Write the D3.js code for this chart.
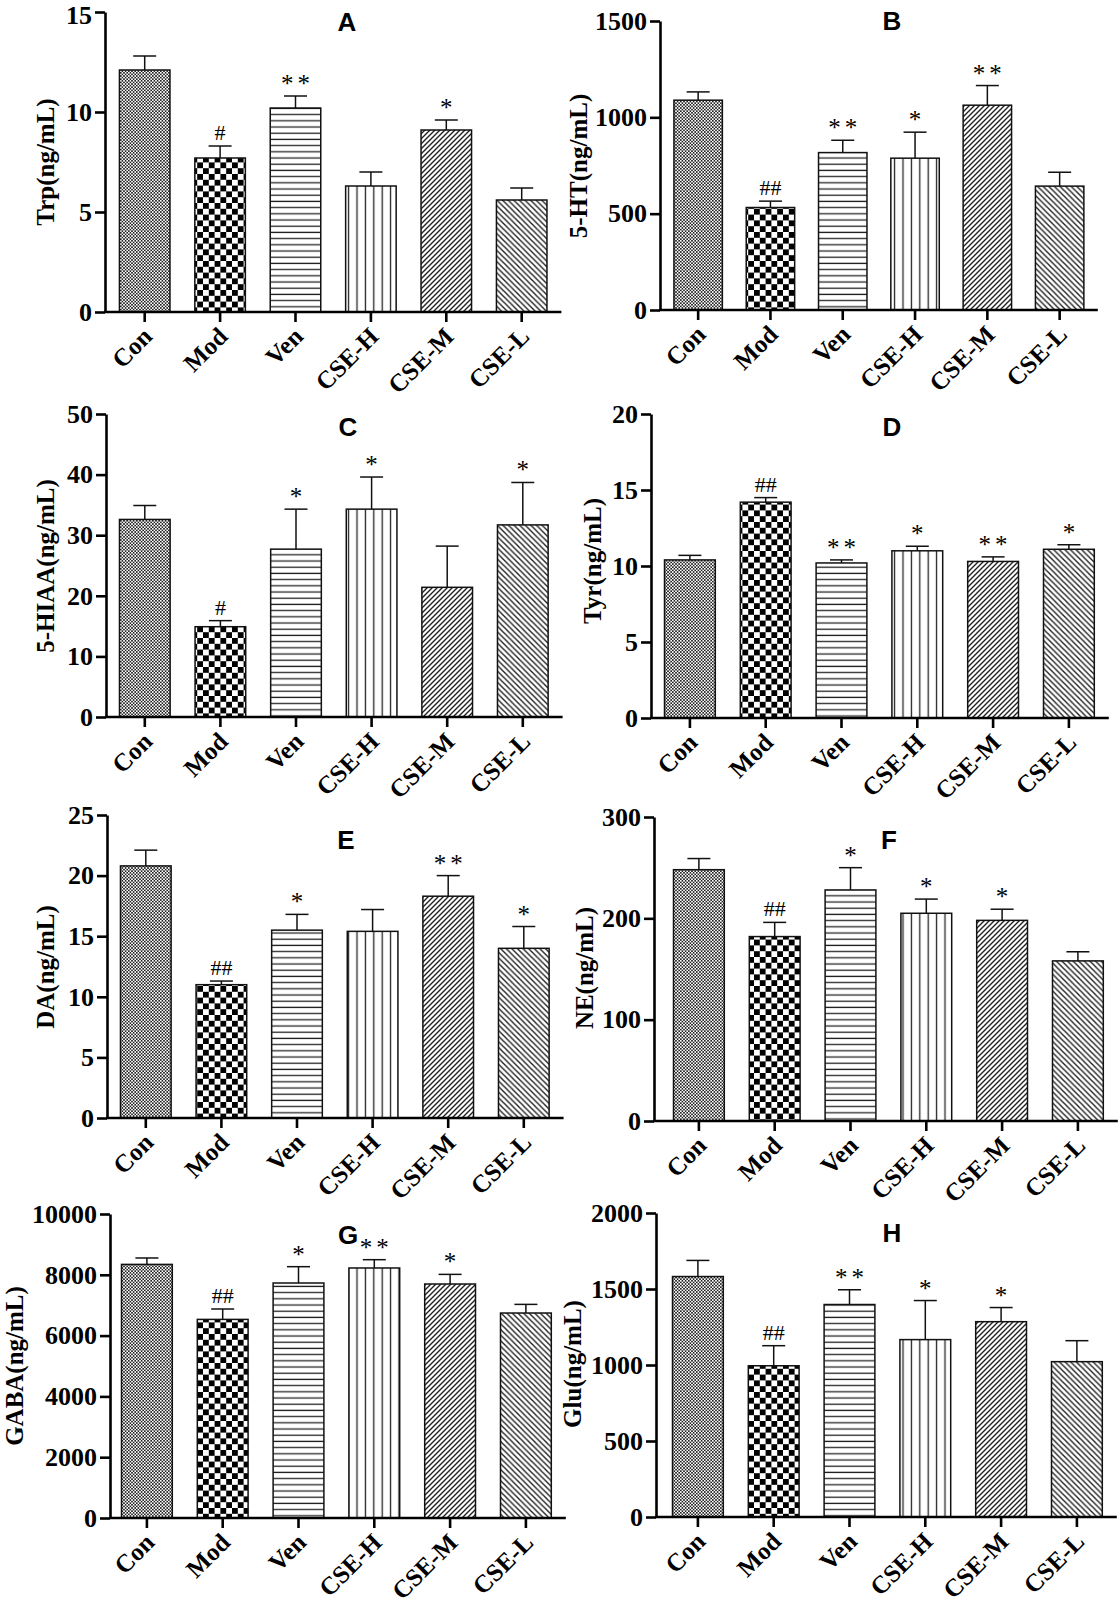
<!DOCTYPE html>
<html>
<head>
<meta charset="utf-8">
<script src="https://cdn.jsdelivr.net/npm/d3@7"></script>
<style>
  html, body { margin: 0; padding: 0; background: #fff; }
  svg { display: block; }
  .serif { font-family: "Liberation Serif", "Times New Roman", serif; font-weight: bold; }
  .title { font-family: "Liberation Sans", Arial, sans-serif; font-weight: bold; }
</style>
</head>
<body>
<svg id="chart" width="1119" height="1607"></svg>
<script>
// ---------------- DATA ----------------
const categories = ["Con", "Mod", "Ven", "CSE-H", "CSE-M", "CSE-L"];

const trpMean  = [12.1, 7.7, 10.2, 6.3, 9.1, 5.6];
const trpErr   = [0.7, 0.6, 0.6, 0.7, 0.5, 0.6];
const trpSig   = ["", "#", "**", "", "*", ""];
const trpTicks = [0, 5, 10, 15];

const htMean   = [1089, 532, 817, 788, 1063, 643];
const htErr    = [43, 33, 64, 135, 102, 72];
const htSig    = ["", "##", "**", "*", "**", ""];
const htTicks  = [0, 500, 1000, 1500];

const hiaaMean  = [32.6, 14.9, 27.7, 34.3, 21.4, 31.7];
const hiaaErr   = [2.3, 1.0, 6.6, 5.3, 6.8, 7.0];
const hiaaSig   = ["", "#", "*", "*", "", "*"];
const hiaaTicks = [0, 10, 20, 30, 40, 50];

const tyrMean  = [10.4, 14.2, 10.2, 11.0, 10.3, 11.1];
const tyrErr   = [0.3, 0.3, 0.2, 0.3, 0.3, 0.3];
const tyrSig   = ["", "##", "**", "*", "**", "*"];
const tyrTicks = [0, 5, 10, 15, 20];

const daMean  = [20.8, 11.0, 15.5, 15.4, 18.3, 14.0];
const daErr   = [1.3, 0.3, 1.3, 1.8, 1.7, 1.8];
const daSig   = ["", "##", "*", "", "**", "*"];
const daTicks = [0, 5, 10, 15, 20, 25];

const neMean  = [248, 182, 228, 205, 198, 158];
const neErr   = [11, 14, 22, 14, 11, 9];
const neSig   = ["", "##", "*", "*", "*", ""];
const neTicks = [0, 100, 200, 300];

const gabaMean  = [8342, 6533, 7730, 8224, 7697, 6743];
const gabaErr   = [211, 342, 537, 273, 317, 284];
const gabaSig   = ["", "##", "*", "**", "*", ""];
const gabaTicks = [0, 2000, 4000, 6000, 8000, 10000];

const gluMean  = [1582, 995, 1398, 1167, 1285, 1022];
const gluErr   = [106, 132, 97, 257, 93, 138];
const gluSig   = ["", "##", "**", "*", "*", ""];
const gluTicks = [0, 500, 1000, 1500, 2000];

const panelLetters = ["A", "B", "C", "D", "E", "F", "G", "H"];
const yLabels = ["Trp(ng/mL)", "5-HT(ng/mL)", "5-HIAA(ng/mL)", "Tyr(ng/mL)",
                 "DA(ng/mL)", "NE(ng/mL)", "GABA(ng/mL)", "Glu(ng/mL)"];

// ---------------- LAYOUT (positions only) ----------------
const layouts = [
  {axisX: 105, bandStart: 107, step: 75.4, yTop: 12,   yZero: 312,  tx: 347, ty: 22,   lx: 45,  ly: 162},
  {axisX: 660, bandStart: 662, step: 72.3, yTop: 21,   yZero: 310,  tx: 892, ty: 21,   lx: 578, ly: 166},
  {axisX: 106, bandStart: 107, step: 75.6, yTop: 414,  yZero: 717,  tx: 348, ty: 427,  lx: 45,  ly: 566},
  {axisX: 651, bandStart: 652, step: 75.8, yTop: 414,  yZero: 718,  tx: 892, ty: 427,  lx: 592, ly: 561},
  {axisX: 107, bandStart: 108, step: 75.6, yTop: 815,  yZero: 1118, tx: 346, ty: 840,  lx: 45,  ly: 967},
  {axisX: 654, bandStart: 661, step: 75.8, yTop: 817,  yZero: 1121, tx: 889, ty: 840,  lx: 584, ly: 968},
  {axisX: 110, bandStart: 109, step: 75.8, yTop: 1214, yZero: 1518, tx: 348, ty: 1235, lx: 14,  ly: 1366},
  {axisX: 656, bandStart: 660, step: 75.8, yTop: 1213, yZero: 1517, tx: 892, ty: 1233, lx: 572, ly: 1364}
];

const panels = [
  {mean: trpMean,  err: trpErr,  sig: trpSig,  ticks: trpTicks},
  {mean: htMean,   err: htErr,   sig: htSig,   ticks: htTicks},
  {mean: hiaaMean, err: hiaaErr, sig: hiaaSig, ticks: hiaaTicks},
  {mean: tyrMean,  err: tyrErr,  sig: tyrSig,  ticks: tyrTicks},
  {mean: daMean,   err: daErr,   sig: daSig,   ticks: daTicks},
  {mean: neMean,   err: neErr,   sig: neSig,   ticks: neTicks},
  {mean: gabaMean, err: gabaErr, sig: gabaSig, ticks: gabaTicks},
  {mean: gluMean,  err: gluErr,  sig: gluSig,  ticks: gluTicks}
];

// ---------------- PATTERNS ----------------
const svg = d3.select("#chart");
const defs = svg.append("defs");

// Con: fine checker (white dots on dark grid)
{
  const p = defs.append("pattern").attr("id", "pat0").attr("patternUnits", "userSpaceOnUse")
    .attr("width", 3.2).attr("height", 3.2);
  p.append("rect").attr("width", 3.2).attr("height", 3.2).attr("fill", "#fff");
  p.append("rect").attr("x", 0).attr("y", 0).attr("width", 1.6).attr("height", 1.6).attr("fill", "#222");
  p.append("rect").attr("x", 1.6).attr("y", 1.6).attr("width", 1.6).attr("height", 1.6).attr("fill", "#222");
}
// Mod: coarse checkerboard
{
  const s = 5.8;
  const p = defs.append("pattern").attr("id", "pat1").attr("patternUnits", "userSpaceOnUse")
    .attr("width", 2 * s).attr("height", 2 * s);
  p.append("rect").attr("width", 2 * s).attr("height", 2 * s).attr("fill", "#fff");
  p.append("rect").attr("x", 0).attr("y", 0).attr("width", s).attr("height", s).attr("fill", "#000");
  p.append("rect").attr("x", s).attr("y", s).attr("width", s).attr("height", s).attr("fill", "#000");
}
// Ven: horizontal lines
{
  const p = defs.append("pattern").attr("id", "pat2").attr("patternUnits", "userSpaceOnUse")
    .attr("width", 10).attr("height", 6.2);
  p.append("rect").attr("width", 10).attr("height", 6.2).attr("fill", "#fff");
  p.append("line").attr("x1", 0).attr("x2", 10).attr("y1", 3).attr("y2", 3)
    .attr("stroke", "#222").attr("stroke-width", 1.3);
}
// CSE-H: vertical lines
{
  const p = defs.append("pattern").attr("id", "pat3").attr("patternUnits", "userSpaceOnUse")
    .attr("width", 8.4).attr("height", 10);
  p.append("rect").attr("width", 8.4).attr("height", 10).attr("fill", "#fff");
  p.append("line").attr("x1", 4.2).attr("x2", 4.2).attr("y1", 0).attr("y2", 10)
    .attr("stroke", "#222").attr("stroke-width", 1.3);
}
// CSE-M: "/" diagonals
{
  const w = 5;
  const p = defs.append("pattern").attr("id", "pat4").attr("patternUnits", "userSpaceOnUse")
    .attr("width", w).attr("height", w);
  p.append("rect").attr("width", w).attr("height", w).attr("fill", "#fff");
  p.append("path").attr("d", `M${-w},${w} L${w},${-w} M0,${2*w} L${2*w},0 M0,${w} L${w},0`)
    .attr("stroke", "#222").attr("stroke-width", 1.4);
}
// CSE-L: "\" diagonals
{
  const w = 5.6;
  const p = defs.append("pattern").attr("id", "pat5").attr("patternUnits", "userSpaceOnUse")
    .attr("width", w).attr("height", w);
  p.append("rect").attr("width", w).attr("height", w).attr("fill", "#fff");
  p.append("path").attr("d", `M0,0 L${w},${w} M${-w},0 L${w},${2*w} M0,${-w} L${2*w},${w}`)
    .attr("stroke", "#222").attr("stroke-width", 1.4);
}

// ---------------- DRAW ----------------
panels.forEach((pd, i) => {
  const L = layouts[i];
  const g = svg.append("g");
  const bandEnd = L.bandStart + L.step * categories.length;

  const x = d3.scaleBand().domain(categories)
    .range([L.bandStart, bandEnd]).paddingInner(0.33).paddingOuter(0.165);
  const y = d3.scaleLinear().domain([0, d3.max(pd.ticks)]).range([L.yZero, L.yTop]);
  const isStar = j => pd.sig[j].startsWith("*");

  // bars
  g.selectAll("rect.bar").data(categories).enter().append("rect")
    .attr("class", "bar")
    .attr("x", c => x(c))
    .attr("width", x.bandwidth())
    .attr("y", (c, j) => y(pd.mean[j]))
    .attr("height", (c, j) => y(0) - y(pd.mean[j]))
    .attr("fill", (c, j) => `url(#pat${j})`)
    .attr("stroke", "#111").attr("stroke-width", 1.5);

  // error bars (upper only)
  const capHalf = 11.5;
  g.selectAll("line.err").data(categories).enter().append("line")
    .attr("x1", c => x(c) + x.bandwidth() / 2).attr("x2", c => x(c) + x.bandwidth() / 2)
    .attr("y1", (c, j) => y(pd.mean[j])).attr("y2", (c, j) => y(pd.mean[j] + pd.err[j]))
    .attr("stroke", "#111").attr("stroke-width", 1.5);
  g.selectAll("line.cap").data(categories).enter().append("line")
    .attr("x1", c => x(c) + x.bandwidth() / 2 - capHalf).attr("x2", c => x(c) + x.bandwidth() / 2 + capHalf)
    .attr("y1", (c, j) => y(pd.mean[j] + pd.err[j])).attr("y2", (c, j) => y(pd.mean[j] + pd.err[j]))
    .attr("stroke", "#111").attr("stroke-width", 1.5);

  // significance marks
  g.selectAll("text.sig").data(categories).enter().append("text")
    .attr("class", "serif")
    .attr("x", (c, j) => x(c) + x.bandwidth() / 2 + (isStar(j) ? 2 : 0))
    .attr("y", (c, j) => y(pd.mean[j] + pd.err[j]) - (isStar(j) ? 4 : 6))
    .attr("text-anchor", "middle")
    .style("font-size", (c, j) => isStar(j) ? "25px" : "22px")
    .style("font-weight", "normal")
    .style("letter-spacing", (c, j) => isStar(j) ? "4px" : "0px")
    .text((c, j) => pd.sig[j]);

  // y axis
  const yAxis = d3.axisLeft(y).tickValues(pd.ticks).tickSize(10).tickSizeOuter(0).tickPadding(3)
    .tickFormat(d3.format("d"));
  const ya = g.append("g").attr("transform", `translate(${L.axisX},0)`).call(yAxis);
  ya.select(".domain").attr("stroke", "#000").attr("stroke-width", 2.6);
  ya.selectAll(".tick line").attr("stroke", "#000").attr("stroke-width", 2.6);
  ya.selectAll(".tick text").attr("class", "serif").style("font-size", "26px").attr("fill", "#000")
    .attr("dy", d => (y(d) < 20 ? "0.45em" : "0.32em"));

  // x axis
  const xAxis = d3.axisBottom(x).tickSize(10).tickSizeOuter(0).tickFormat("");
  const xa = g.append("g").attr("transform", `translate(0,${L.yZero})`).call(xAxis);
  xa.select(".domain").remove();
  xa.selectAll(".tick line").attr("stroke", "#000").attr("stroke-width", 2.6);
  g.append("line")
    .attr("x1", L.axisX - 1).attr("x2", bandEnd + 2)
    .attr("y1", y(0)).attr("y2", y(0))
    .attr("stroke", "#000").attr("stroke-width", 2.6);

  // rotated category labels
  g.selectAll("text.xl").data(categories).enter().append("text")
    .attr("class", "serif")
    .attr("text-anchor", "end")
    .attr("transform", c => `translate(${x(c) + x.bandwidth() / 2 + 9},${L.yZero + 26}) rotate(-45)`)
    .style("font-size", "25px")
    .text(c => c);

  // y label
  g.append("text").attr("class", "serif")
    .attr("transform", `translate(${L.lx},${L.ly}) rotate(-90)`)
    .attr("text-anchor", "middle").attr("dy", "0.35em")
    .style("font-size", "25px")
    .text(yLabels[i]);

  // panel letter
  g.append("text").attr("class", "title")
    .attr("x", L.tx).attr("y", L.ty).attr("dy", "0.36em")
    .attr("text-anchor", "middle")
    .style("font-size", "26px")
    .text(panelLetters[i]);
});
</script>
</body>
</html>
